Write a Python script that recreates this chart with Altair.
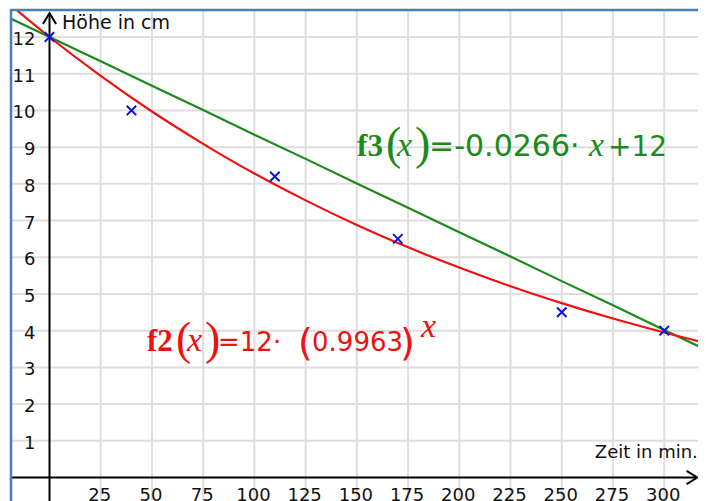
import altair as alt
import pandas as pd

# ---------------- data ----------------
time_min = [0, 40, 110, 170, 250, 300]
height_cm = [12, 10, 8.2, 6.5, 4.5, 4]

curve_t = [-20, 0, 25, 50, 75, 100, 125, 150, 175, 200, 225, 250, 275, 300, 325]
f2_vals = [12.92, 12.00, 10.94, 9.97, 9.09, 8.28, 7.55, 6.88, 6.27, 5.72, 5.21, 4.75, 4.33, 3.95, 3.60]
f3_vals = [12.53, 12.00, 11.34, 10.67, 10.01, 9.34, 8.68, 8.01, 7.35, 6.68, 6.02, 5.35, 4.69, 4.02, 3.36]

x_ticks = [25, 50, 75, 100, 125, 150, 175, 200, 225, 250, 275, 300]
y_ticks = [1, 2, 3, 4, 5, 6, 7, 8, 9, 10, 11, 12]

x_title = "Zeit in min."
y_title = "Höhe in cm"

f3_parts = ["f3", "(", "x", ")", "=-0.0266·", "x", "+12"]
f2_parts = ["f2", "(", "x", ")", "=12·", "(", "0.9963", ")", "x"]

# annotation anchors (data units)
f3_anchor = pd.DataFrame({"x": [150.1], "y": [8.76]})
f2_anchor = pd.DataFrame({"x": [47.6], "y": [3.45]})
ytitle_anchor = pd.DataFrame({"x": [0], "y": [12.22]})
xtitle_anchor = pd.DataFrame({"x": [316.4], "y": [0]})

# ---------------- layout ----------------
W, H = 688, 492
X_DOM = [-19.28, 316.5]
Y_DOM = [-0.640, 12.763]
Y_TOP = 12.65

GRID = "#dedede"
RED = "#ee1111"
GREEN = "#1b8a1b"
BLUE = "#1010e0"
BORDER = "#4a7ebb"
SANS = "DejaVu Sans"
SERIF = "Liberation Serif"

xs = alt.Scale(domain=X_DOM, nice=False, zero=False)
ys = alt.Scale(domain=Y_DOM, nice=False, zero=False)


def X(f="x"):
    return alt.X(f + ":Q", scale=xs, axis=None)


def Y(f="y"):
    return alt.Y(f + ":Q", scale=ys, axis=None)


pts = pd.DataFrame({"x": time_min, "y": height_cm})
curves = pd.DataFrame({"x": curve_t, "f2": f2_vals, "f3": f3_vals})
xt = pd.DataFrame({"x": x_ticks, "y": [0] * len(x_ticks), "label": [str(v) for v in x_ticks]})
yt = pd.DataFrame({"x": [0] * len(y_ticks), "y": y_ticks, "label": [str(v) for v in y_ticks]})

layers = []

# grid
layers.append(alt.Chart(xt).mark_rule(color=GRID, strokeWidth=2).encode(
    x=X(), y=alt.value(0), y2=alt.value(H)))
layers.append(alt.Chart(yt).mark_rule(color=GRID, strokeWidth=2).encode(
    y=Y(), x=alt.value(0), x2=alt.value(W)))

# axes
xaxis = pd.DataFrame({"y": [0]})
layers.append(alt.Chart(xaxis).mark_rule(color="black", strokeWidth=2).encode(
    y=Y(), x=alt.value(0), x2=alt.value(W - 2)))
yaxis = pd.DataFrame({"x": [0], "y": [Y_DOM[0]], "y2": [Y_TOP - 0.05]})
layers.append(alt.Chart(yaxis).mark_rule(color="black", strokeWidth=2).encode(
    x=X(), y=Y(), y2=alt.Y2("y2:Q")))

# arrow heads
up_tip = pd.DataFrame({"x": [0], "y": [Y_TOP]})
layers.append(alt.Chart(up_tip).mark_point(
    shape="M-0.55,0.9L0,0L0.55,0.9", filled=False, stroke="black",
    strokeWidth=2, size=576, opacity=1).encode(x=X(), y=Y()))
right_tip = pd.DataFrame({"x": [X_DOM[1] - 0.3], "y": [0]})
layers.append(alt.Chart(right_tip).mark_point(
    shape="M-0.9,-0.55L0,0L-0.9,0.55", filled=False, stroke="black",
    strokeWidth=2, size=576, opacity=1).encode(x=X(), y=Y()))

# curves
layers.append(alt.Chart(curves).mark_line(color=GREEN, strokeWidth=2.2, clip=True).encode(
    x=X(), y=Y("f3")))
layers.append(alt.Chart(curves).mark_line(color=RED, strokeWidth=2.2, clip=True,
                                          interpolate="monotone").encode(
    x=X(), y=Y("f2")))

# data points
layers.append(alt.Chart(pts).mark_point(
    shape="M-1,-1L1,1M-1,1L1,-1", filled=False, stroke=BLUE, strokeWidth=2,
    size=90, opacity=1).encode(x=X(), y=Y()))

# tick labels
layers.append(alt.Chart(xt).mark_text(
    font=SANS, fontSize=18, color="#111111", align="center", baseline="top",
    dy=9, dx=-1).encode(x=X(), y=Y(), text="label:N"))
layers.append(alt.Chart(yt).mark_text(
    font=SANS, fontSize=18, color="#111111", align="right", baseline="middle",
    dx=-14, dy=3).encode(x=X(), y=Y(), text="label:N"))

# axis titles
layers.append(alt.Chart(ytitle_anchor).mark_text(
    text=y_title, font=SANS, fontSize=19, color="#111111", align="left",
    baseline="alphabetic", dx=12.5).encode(x=X(), y=Y()))
layers.append(alt.Chart(xtitle_anchor).mark_text(
    text=x_title, font=SANS, fontSize=18, color="#111111", align="right",
    baseline="alphabetic", dy=-19.5).encode(x=X(), y=Y()))


def piece(anchor, text, color, font, size, dx, dy=0, weight="normal", style="normal"):
    return alt.Chart(anchor).mark_text(
        text=text, font=font, fontSize=size, color=color, align="left",
        baseline="alphabetic", dx=dx, dy=dy, fontWeight=weight, fontStyle=style
    ).encode(x=X(), y=Y())


# f3 label
f3_specs = [
    (SERIF, 31, 0, 0, "bold", "normal"),
    (SERIF, 46, 29, 3, "normal", "normal"),
    (SERIF, 34, 40, 0, "normal", "italic"),
    (SERIF, 46, 58, 3, "normal", "normal"),
    (SANS, 30, 72, 0, "normal", "normal"),
    (SERIF, 34, 232, 0, "normal", "italic"),
    (SANS, 28, 251, 0, "normal", "normal"),
]
for t, (fnt, sz, dx, dy, wt, st) in zip(f3_parts, f3_specs):
    layers.append(piece(f3_anchor, t, GREEN, fnt, sz, dx, dy, wt, st))

# f2 label
f2_specs = [
    (SERIF, 31, 0, 0, "bold", "normal"),
    (SERIF, 46, 29, 3, "normal", "normal"),
    (SERIF, 34, 40, 0, "normal", "italic"),
    (SERIF, 46, 58, 3, "normal", "normal"),
    (SANS, 26, 71, 0, "normal", "normal"),
    (SANS, 38, 151, 4, "normal", "normal"),
    (SANS, 26, 165, 0, "normal", "normal"),
    (SANS, 38, 253, 4, "normal", "normal"),
    (SERIF, 34, 274, -14, "normal", "italic"),
]
for t, (fnt, sz, dx, dy, wt, st) in zip(f2_parts, f2_specs):
    layers.append(piece(f2_anchor, t, RED, fnt, sz, dx, dy, wt, st))

# blue frame (left and top only)
frame = pd.DataFrame({"k": [0]})
layers.append(alt.Chart(frame).mark_rule(color=BORDER, strokeWidth=2.5).encode(
    x=alt.value(1), y=alt.value(0), y2=alt.value(H)))
layers.append(alt.Chart(frame).mark_rule(color=BORDER, strokeWidth=2.5).encode(
    y=alt.value(1), x=alt.value(0), x2=alt.value(W)))

chart = alt.layer(*layers).properties(
    width=W, height=H,
    padding={"left": 2, "top": 1, "right": 0, "bottom": 0},
    autosize=alt.AutoSizeParams(type="none"),
    background="white",
).configure_view(stroke=None)

chart.save("out.html", embed_options={"renderer": "svg", "actions": False})
